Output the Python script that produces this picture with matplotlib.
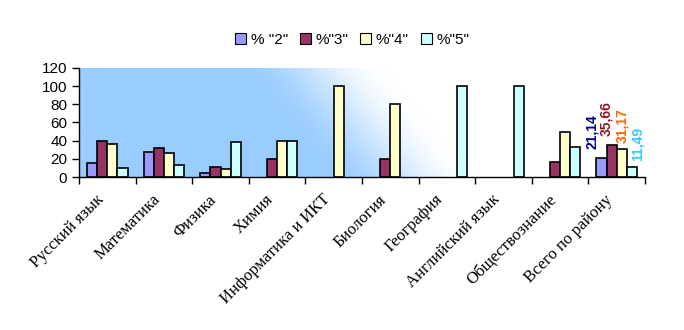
import numpy as np
import matplotlib
matplotlib.use('Agg')
import matplotlib.pyplot as plt
import matplotlib.transforms as mtransforms
from matplotlib.patches import Patch

subjects = ['Русский язык', 'Математика', 'Физика', 'Химия', 'Информатика и ИКТ',
            'Биология', 'География', 'Английский язык', 'Обществознание', 'Всего по району']
series_names = ['% "2"', '%"3"', '%"4"', '%"5"']
pct2 = [15, 28, 4, 0, 0, 0, 0, 0, 0, 21.14]
pct3 = [40, 32, 11, 20, 0, 20, 0, 0, 17, 35.66]
pct4 = [36, 26, 9, 40, 100, 80, 0, 0, 50, 31.17]
pct5 = [10, 13, 38, 40, 0, 0, 100, 100, 33, 11.49]
total_labels = ['21,14', '35,66', '31,17', '11,49']

bar_colors = ['#9999FF', '#993366', '#FFFFCC', '#CCFFFF']
label_colors = ['#000080', '#8B1A2A', '#FF6600', '#33CCFF']
# label nudges in pixels (dx, dy) over the last group
label_dx = [-9, -5, 0, 6]
label_dy = [9, 9, 6, 6]

fig = plt.figure(figsize=(6.84, 3.3), dpi=100)
ax = fig.add_axes([0.1155, 0.4636, 0.8275, 0.3304])

# background gradient: blue bottom-left -> white top-right
u = np.linspace(0, 1, 300)
v = np.linspace(1, 0, 150)
U, V = np.meshgrid(u, v)
t = np.clip((U - 0.28 - 0.16 * (1 - V)) / 0.26, 0, 1)
t = t * t * (3 - 2 * t)
blue = np.array([153, 204, 255]) / 255.0
img = blue[None, None, :] * (1 - t[..., None]) + t[..., None]
ax.imshow(img, extent=[0, 1, 0, 1], transform=ax.transAxes, aspect='auto', zorder=0)

x = np.arange(len(subjects))
w = 0.18
series = [pct2, pct3, pct4, pct5]
for i, vals in enumerate(series):
    h = np.array(vals, dtype=float)
    h[h == 0] = np.nan
    ax.bar(x + (i - 1.5) * w, h, width=w, color=bar_colors[i],
           edgecolor='black', linewidth=1.2, zorder=2)

last = len(subjects) - 1
for i, vals in enumerate(series):
    ax.annotate(total_labels[i], (last + (i - 1.5) * w, vals[last]),
                xytext=(label_dx[i] * 0.72, label_dy[i] * 0.72),
                textcoords='offset points', rotation=90,
                ha='center', va='bottom', fontsize=10, fontweight='bold',
                color=label_colors[i], family='Liberation Sans')

ax.set_xlim(-0.5, len(subjects) - 0.5)
ax.set_ylim(0, 120)
ax.set_yticks(range(0, 121, 20))
ax.set_xticks(x)
ax.set_xticks(np.arange(-0.5, len(subjects), 1), minor=True)
ax.set_xticklabels(subjects, rotation=45, ha='right', rotation_mode='anchor',
                   family='Liberation Serif', fontsize=12)
ax.tick_params(axis='x', which='major', length=0, pad=12)
ax.tick_params(axis='x', which='minor', length=5, direction='out', width=1)
ax.tick_params(axis='y', length=5, width=1, labelsize=11)
for lab in ax.get_yticklabels():
    lab.set_family('Liberation Sans')

# shift category labels a little to the left, as in the original
shift = mtransforms.ScaledTranslation(-12 / 100, 2 / 100, fig.dpi_scale_trans)
for lab in ax.get_xticklabels():
    lab.set_transform(lab.get_transform() + shift)

for s in ['top', 'right']:
    ax.spines[s].set_visible(False)
ax.spines['left'].set_linewidth(1)
ax.spines['bottom'].set_linewidth(1)

handles = [Patch(facecolor=c, edgecolor='black', linewidth=0.8) for c in bar_colors]
fig.legend(handles, series_names, loc='center', bbox_to_anchor=(0.515, 0.88), ncol=4,
           frameon=False, handlelength=0.7, handleheight=0.7, handletextpad=0.3,
           columnspacing=0.8, prop={'family': 'Liberation Sans', 'size': 11})

fig.savefig('out.png', dpi=100)
